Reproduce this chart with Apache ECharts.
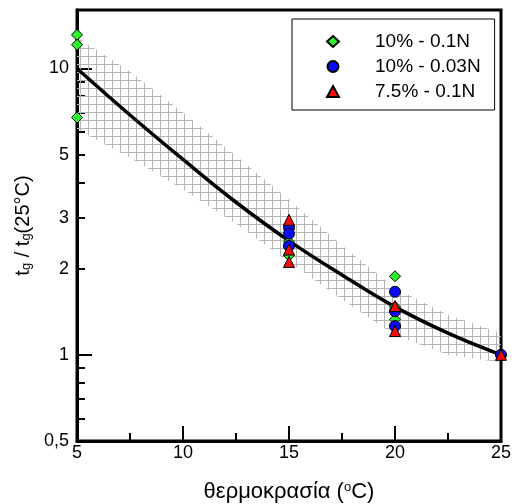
<!DOCTYPE html>
<html><head><meta charset="utf-8">
<script src="https://cdn.jsdelivr.net/npm/echarts@6/dist/echarts.min.js"></script>
<style>html,body{margin:0;padding:0;background:#fff}#c{width:512px;height:504px}</style>
</head><body><div id="c"></div>
<script>
// ---- data ----
const temps = [5, 7.5, 10, 12.5, 15, 17.5, 20, 22.5, 25];
const fitCurve = [10, 6.88, 4.81, 3.41, 2.50, 1.90, 1.47, 1.19, 1.0];
const bandUpper = [12.84, 9.76, 7.02, 4.96, 3.48, 2.41, 1.71, 1.38, 1.19];
const bandLower = [6.12, 4.88, 3.78, 2.87, 2.11, 1.56, 1.17, 1.0, 0.94];
const greenPts = [[5,13.1],[5,12.1],[5,6.74],[15,2.48],[15,2.22],[20,1.88],[20,1.47],[20,1.33],[25,1.0]];
const bluePts = [[15,2.78],[15,2.65],[15,2.40],[20,1.66],[20,1.42],[20,1.26],[25,1.0]];
const redPts = [[15,2.96],[15,2.33],[15,2.11],[20,1.48],[20,1.21],[25,1.0]];
const seriesNames = ['10% - 0.1N', '10% - 0.03N', '7.5% - 0.1N'];
const yLabelValues = [0.5, 1, 2, 3, 5, 10];
const yMajorTicks = [1, 10];
const yMinorTicks = [0.6, 0.7, 0.8, 0.9, 2, 3, 4, 5, 6, 7, 8, 9];

// ---- hatch pattern ----
const pc = document.createElement('canvas');
pc.width = 8; pc.height = 8;
const pctx = pc.getContext('2d');
pctx.strokeStyle = '#b4b4b4'; pctx.lineWidth = 1;
pctx.beginPath();
pctx.moveTo(0.5, 0); pctx.lineTo(0.5, 8);
pctx.moveTo(0, 0.5); pctx.lineTo(8, 0.5);
pctx.stroke();

const FONT = 'Liberation Sans, Arial, sans-serif';
const chart = echarts.init(document.getElementById('c'), null, {renderer: 'canvas'});
const tickLine = {color: '#000', width: 2};
chart.setOption({
  animation: false,
  backgroundColor: '#fff',
  grid: {left: 77, right: 11, top: 10, bottom: 63, outerBoundsMode: 'none', containLabel: false,
    show: true, borderColor: '#000', borderWidth: 3, backgroundColor: 'transparent'},
  legend: {
    orient: 'vertical', left: 292, top: 19,
    data: seriesNames,
    itemWidth: 12, itemHeight: 11, itemGap: 6,
    padding: [13, 14, 9, 34],
    borderColor: '#000', borderWidth: 1,
    textStyle: {fontSize: 19, color: '#000', fontFamily: FONT, lineHeight: 18, padding: [0, 0, 0, 31]}
  },
  xAxis: {
    type: 'value', min: 5, max: 25, interval: 5,
    axisLine: {lineStyle: {color: '#000', width: 3}},
    axisTick: {inside: true, length: 15, lineStyle: tickLine},
    minorTick: {show: true, splitNumber: 2, length: 8, lineStyle: tickLine},
    splitLine: {show: false},
    axisLabel: {color: '#000', fontSize: 18, fontFamily: FONT, margin: 3},
    name: 'θερμοκρασία ({sup|o}C)',
    nameLocation: 'middle', nameGap: 40,
    nameTextStyle: {color: '#000', fontSize: 22, fontFamily: FONT,
      rich: {sup: {fontSize: 13, fontFamily: FONT, color: '#000', verticalAlign: 'top'}}}
  },
  yAxis: [{
    type: 'log', min: 0.5, max: 16,
    axisLine: {lineStyle: {color: '#000', width: 3}},
    axisTick: {inside: true, length: 15, lineStyle: tickLine, customValues: yMajorTicks},
    axisLabel: {color: '#000', fontSize: 18, fontFamily: FONT, margin: 8, customValues: yLabelValues,
      formatter: v => String(v).replace('.', ',')},
    splitLine: {show: false},
    name: 't{sub|g} / t{sub|g}(25°C)',
    nameLocation: 'middle', nameGap: 43,
    nameTextStyle: {color: '#000', fontSize: 20, fontFamily: FONT,
      rich: {sub: {fontSize: 13, fontFamily: FONT, color: '#000', verticalAlign: 'bottom'}}}
  }, {
    type: 'log', min: 0.5, max: 16, position: 'left',
    axisLine: {show: false},
    axisTick: {inside: true, length: 8, lineStyle: tickLine, customValues: yMinorTicks},
    axisLabel: {show: false},
    splitLine: {show: false}
  }],
  series: [
    {
      type: 'custom', silent: true, z: 1, clip: true,
      data: [[5, 1]],
      renderItem: (params, api) => {
        const pts = [];
        temps.forEach((t, i) => pts.push(api.coord([t, bandUpper[i]])));
        for (let i = temps.length - 1; i >= 0; i--) pts.push(api.coord([temps[i], bandLower[i]]));
        return {type: 'polygon', shape: {points: pts}, style: {fill: {image: pc, repeat: 'repeat'}, stroke: null}};
      }
    },
    {
      type: 'line', z: 2, symbol: 'none', smooth: 0.4, silent: true,
      data: temps.map((t, i) => [t, fitCurve[i]]),
      lineStyle: {color: '#000', width: 3.5}
    },
    {name: seriesNames[0], type: 'scatter', z: 3, symbol: 'diamond', symbolSize: 11, data: greenPts,
      itemStyle: {color: '#2bf52b', borderColor: '#000', borderWidth: 1, opacity: 1}},
    {name: seriesNames[1], type: 'scatter', z: 4, symbol: 'circle', symbolSize: 11, data: bluePts,
      itemStyle: {color: '#0a0af5', borderColor: '#000', borderWidth: 1, opacity: 1}},
    {name: seriesNames[2], type: 'scatter', z: 5, symbol: 'triangle', symbolSize: 11, data: redPts,
      itemStyle: {color: '#f50a0a', borderColor: '#000', borderWidth: 1, opacity: 1}}
  ]
});
</script></body></html>
